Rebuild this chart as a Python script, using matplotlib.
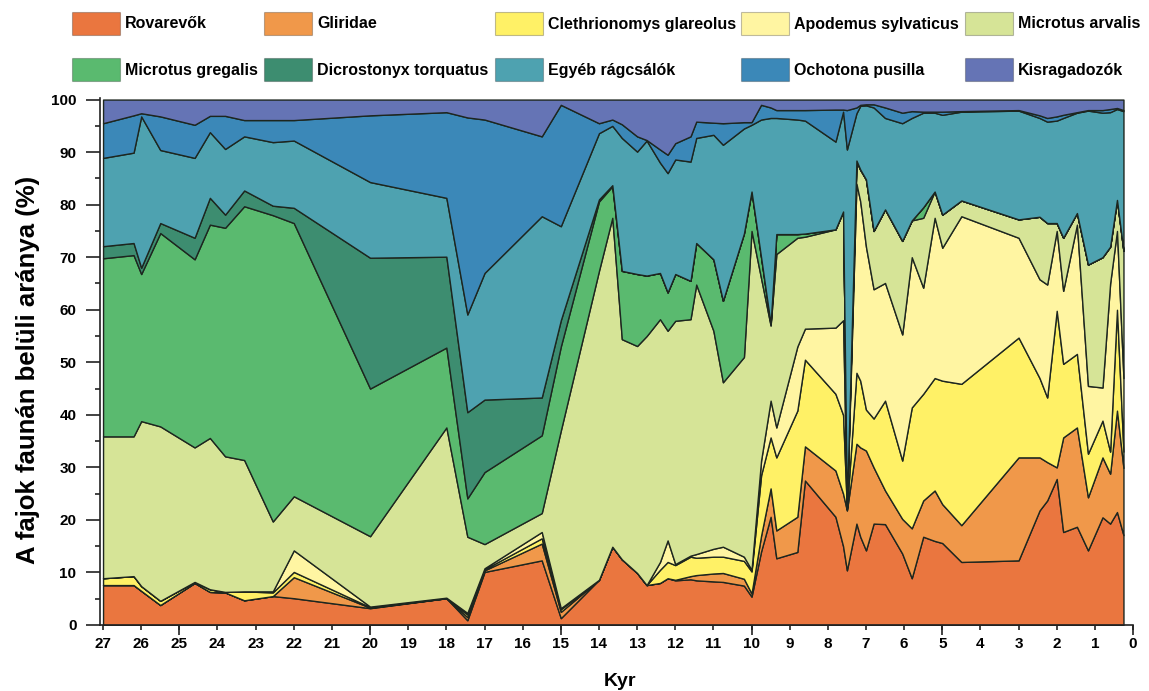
#!/usr/bin/env python3

import matplotlib
matplotlib.use('Agg')
import matplotlib.pyplot as plt
from matplotlib.patches import Rectangle
from matplotlib.ticker import MultipleLocator

# time axis (kyr BP)
kyr = [27.0, 26.2, 26.0, 25.5, 24.6, 24.2, 23.8, 23.3, 22.55, 22.0,
       20.0, 18.0, 17.45, 17.0, 15.5, 15.0, 14.0, 13.65, 13.4, 13.0,
       12.75, 12.4, 12.2, 12.0, 11.6, 11.45, 11.0, 10.75, 10.2, 10.0,
       9.75, 9.5, 9.35, 8.8, 8.6, 7.8, 7.6, 7.5, 7.25, 7.15,
       7.0, 6.8, 6.5, 6.05, 5.8, 5.5, 5.2, 5.0, 4.5, 3.0,
       2.45, 2.25, 2.0, 1.83, 1.47, 1.18, 0.8, 0.6, 0.42, 0.25]

# percentages per group (%)
rovarevok = [7.6, 7.6, 6.5, 3.8, 8.0, 6.3, 6.2, 4.7, 5.5, 5.1,
             3.2, 5.1, 0.9, 10.1, 12.3, 1.3, 8.6, 14.9, 12.5, 9.9,
             7.6, 8.0, 8.9, 8.5, 8.7, 8.5, 8.3, 8.2, 7.5, 5.4,
             14.0, 20.6, 12.7, 13.9, 27.5, 20.6, 15.0, 10.4, 19.3, 16.8,
             14.2, 19.3, 19.2, 13.6, 8.9, 16.8, 16.0, 15.6, 12.0, 12.3,
             21.8, 23.7, 27.8, 17.7, 18.7, 14.2, 20.5, 19.3, 21.5, 17.1]
gliridae = [0, 0, 0, 0, 0, 0, 0, 0, 0, 4.0,
            0.1, 0, 0.6, 0.3, 3.2, 1.2, 0, 0, 0, 0,
            0, 0, 0, 0.1, 0.6, 1.0, 1.5, 1.7, 1.3, 0.6,
            3.0, 5.4, 5.3, 6.7, 6.5, 8.8, 10.0, 11.4, 15.2, 17.0,
            19.0, 10.7, 6.4, 6.6, 9.5, 6.9, 9.6, 7.4, 7.0, 19.6,
            10.1, 7.3, 2.2, 18.0, 18.9, 10.1, 11.4, 9.5, 19.3, 12.8]
clethrionomys = [1.3, 1.7, 0.9, 0.8, 0.2, 0.5, 0.1, 1.7, 0.7, 1.0,
                 0.1, 0, 0.5, 0.2, 1.0, 0.5, 0, 0, 0, 0,
                 0, 2.5, 3.1, 2.8, 3.7, 3.3, 3.2, 3.1, 3.4, 4.2,
                 11.5, 9.7, 13.9, 20.2, 16.5, 14.6, 15.0, 0.2, 13.5, 12.7,
                 7.8, 9.3, 17.1, 11.1, 23.0, 20.3, 21.4, 23.5, 26.9, 22.8,
                 15.1, 12.3, 29.8, 14.0, 14.0, 8.3, 7.0, 4.2, 19.2, 3.1]
apodemus = [0, 0, 0, 0, 0, 0, 0, 0, 0.2, 4.1,
            0.1, 0.1, 0.3, 0.2, 1.2, 0.2, 0, 0, 0, 0,
            0, 1.5, 4.1, 0.2, 0.2, 0.7, 1.5, 1.9, 0.8, 0.3,
            2.8, 7.0, 5.7, 12.2, 5.9, 12.6, 18.0, 0.2, 36.0, 34.1,
            31.0, 24.6, 22.4, 24.0, 28.6, 20.2, 30.5, 25.3, 31.9, 19.0,
            18.8, 21.5, 15.2, 13.9, 24.6, 12.9, 6.3, 32.0, 15.0, 14.0]
arvalis = [27.0, 26.6, 31.4, 33.2, 25.6, 28.8, 25.8, 25.0, 13.3, 10.3,
           13.4, 32.4, 14.5, 4.6, 3.6, 33.8, 58.8, 62.6, 41.9, 43.2,
           47.4, 46.2, 39.9, 46.3, 45.0, 51.3, 41.5, 31.3, 38.0, 64.5,
           34.7, 14.3, 33.0, 20.7, 17.5, 18.7, 20.7, 0.2, 4.2, 6.0,
           12.8, 11.1, 14.0, 17.8, 7.0, 13.3, 5.0, 6.3, 3.0, 3.5,
           11.9, 11.7, 1.5, 10.1, 2.2, 23.1, 24.8, 7.0, 5.9, 24.2]
gregalis = [33.9, 34.5, 28.0, 36.8, 35.8, 40.6, 43.5, 48.3, 58.3, 52.0,
            28.1, 15.2, 7.3, 13.7, 14.8, 16.0, 13.2, 6.0, 13.0, 13.7,
            11.5, 8.8, 7.3, 8.9, 7.3, 7.9, 13.6, 15.5, 23.5, 7.5,
            4.0, 0.3, 3.8, 0.7, 0.6, 0, 0, 0.1, 0.2, 0.1,
            0, 0, 0, 0, 0, 2.0, 0, 0, 0, 0,
            0, 0, 0, 0, 0, 0, 0, 0, 0, 0]
dicrostonyx = [2.3, 2.3, 1.2, 1.9, 4.1, 5.1, 2.5, 3.0, 1.8, 2.9,
               24.9, 17.3, 16.4, 13.8, 7.2, 5.0, 0.4, 0.2, 0, 0,
               0, 0, 0, 0, 0, 0, 0, 0, 0, 0,
               0, 0, 0, 0, 0, 0, 0, 0, 0, 0,
               0, 0, 0, 0, 0, 0, 0, 0, 0, 0,
               0, 0, 0, 0, 0, 0, 0, 0, 0, 0]
egyeb = [16.8, 17.2, 28.8, 13.9, 15.2, 12.5, 12.5, 10.3, 12.1, 12.8,
         14.4, 11.2, 18.6, 24.1, 34.5, 17.9, 12.6, 11.3, 25.3, 23.3,
         25.7, 21.0, 22.7, 21.8, 22.7, 20.0, 23.7, 29.7, 20.0, 12.7,
         26.2, 39.2, 22.1, 21.8, 21.5, 16.7, 19.0, 68.0, 9.0, 12.1,
         14.1, 23.5, 17.4, 22.4, 19.5, 18.0, 15.0, 19.0, 16.9, 20.7,
         18.8, 19.3, 19.5, 22.8, 19.1, 29.3, 27.5, 25.6, 17.3, 26.6]
ochotona = [6.6, 7.1, 0.6, 6.4, 6.3, 3.1, 6.3, 3.1, 4.2, 3.9,
            12.7, 16.3, 37.5, 29.2, 15.2, 23.1, 1.9, 1.2, 2.6, 2.9,
            0.1, 2.5, 3.5, 3.1, 4.8, 3.1, 2.3, 4.1, 1.2, 0.5,
            2.8, 2.0, 1.5, 1.8, 2.0, 6.1, 0.4, 7.5, 1.1, 0.2,
            0.2, 0.6, 2.0, 2.0, 1.3, 0.2, 0.2, 0.6, 0.1, 0.1,
            0.5, 0.7, 0.8, 0.6, 0.1, 0.1, 0.5, 0.6, 0.2, 0.2]
kisragadozok = [4.5, 3.0, 2.6, 3.2, 4.8, 3.1, 3.1, 3.9, 3.9, 3.9,
                3.0, 2.4, 3.4, 3.8, 7.0, 1.0, 4.5, 3.8, 4.7, 7.0,
                7.7, 9.5, 10.5, 8.3, 7.0, 4.2, 4.4, 4.5, 4.3, 4.3,
                1.0, 1.5, 2.0, 2.0, 2.0, 1.9, 1.9, 2.0, 1.5, 1.0,
                0.9, 0.9, 1.5, 2.5, 2.2, 2.3, 2.3, 2.3, 2.2, 2.0,
                3.0, 3.5, 3.2, 2.9, 2.4, 2.0, 2.0, 1.8, 1.6, 2.0]

labels = ['Rovarevők', 'Gliridae', 'Clethrionomys glareolus',
          'Apodemus sylvaticus', 'Microtus arvalis', 'Microtus gregalis',
          'Dicrostonyx torquatus', 'Egyéb rágcsálók', 'Ochotona pusilla',
          'Kisragadozók']
colors = ['#ea763f', '#f0984a', '#fff166', '#fff5a2', '#d6e497',
          '#5aba6f', '#3d8d70', '#4ea2b0', '#3b88b8', '#6574b5']

plt.rcParams['font.family'] = ['Liberation Sans', 'DejaVu Sans']
plt.rcParams['font.weight'] = 'bold'

W, H = 1149, 691
fig = plt.figure(figsize=(W / 100, H / 100), dpi=100)
ax = fig.add_axes([100 / W, 66 / H, 1033 / W, 527 / H])

series = [rovarevok, gliridae, clethrionomys, apodemus, arvalis,
          gregalis, dicrostonyx, egyeb, ochotona, kisragadozok]
ax.stackplot(kyr, *series, colors=colors, edgecolor='#1d261f',
             linewidth=1.0)

ax.set_xlim(27.08, 0)
ax.set_ylim(0, 100.3)
for side in ('top', 'right'):
    ax.spines[side].set_visible(False)
for side in ('left', 'bottom'):
    ax.spines[side].set_linewidth(1.2)
    ax.spines[side].set_color('#222222')

ax.xaxis.set_major_locator(MultipleLocator(1))
ax.xaxis.set_minor_locator(MultipleLocator(5))
ax.xaxis.remove_overlapping_locs = False
ax.set_xticks(range(0, 28))
ax.set_xticklabels([str(v) for v in range(0, 28)])
ax.tick_params(axis='x', which='major', length=3.6, width=1.2, pad=5,
               labelsize=11, colors='#222222')
ax.tick_params(axis='x', which='minor', length=7, width=1.2,
               colors='#222222')

ax.set_yticks(range(0, 101, 10))
ax.yaxis.set_minor_locator(MultipleLocator(5))
ax.tick_params(axis='y', which='major', length=10, width=1.2, pad=7,
               labelsize=11, colors='#222222')
ax.tick_params(axis='y', which='minor', length=3.6, width=1.2,
               colors='#222222')
for lab in ax.get_xticklabels() + ax.get_yticklabels():
    lab.set_fontweight('bold')
    lab.set_color('black')

fig.text(28 / W, 1 - 370 / H, 'A fajok faunán belüli aránya (%)',
         rotation=90, ha='center', va='center', fontsize=18.5,
         fontweight='bold')
fig.text(620 / W, 1 - 682 / H, 'Kyr', ha='center', va='center',
         fontsize=14, fontweight='bold')

# legend, two rows of five
col_x = [72, 264, 495, 741, 965]
row_y = [12, 58]
for i, (lab, col) in enumerate(zip(labels, colors)):
    x0 = col_x[i % 5]
    y0 = row_y[i // 5]
    fig.add_artist(Rectangle((x0 / W, 1 - (y0 + 23) / H), 48 / W, 23 / H,
                             transform=fig.transFigure, facecolor=col,
                             edgecolor='#00000040', linewidth=0.8))
    fig.text((x0 + 53) / W, 1 - (y0 + 12) / H, lab, ha='left',
             va='center', fontsize=11.5, fontweight='bold')

fig.savefig('out.png', dpi=100)
